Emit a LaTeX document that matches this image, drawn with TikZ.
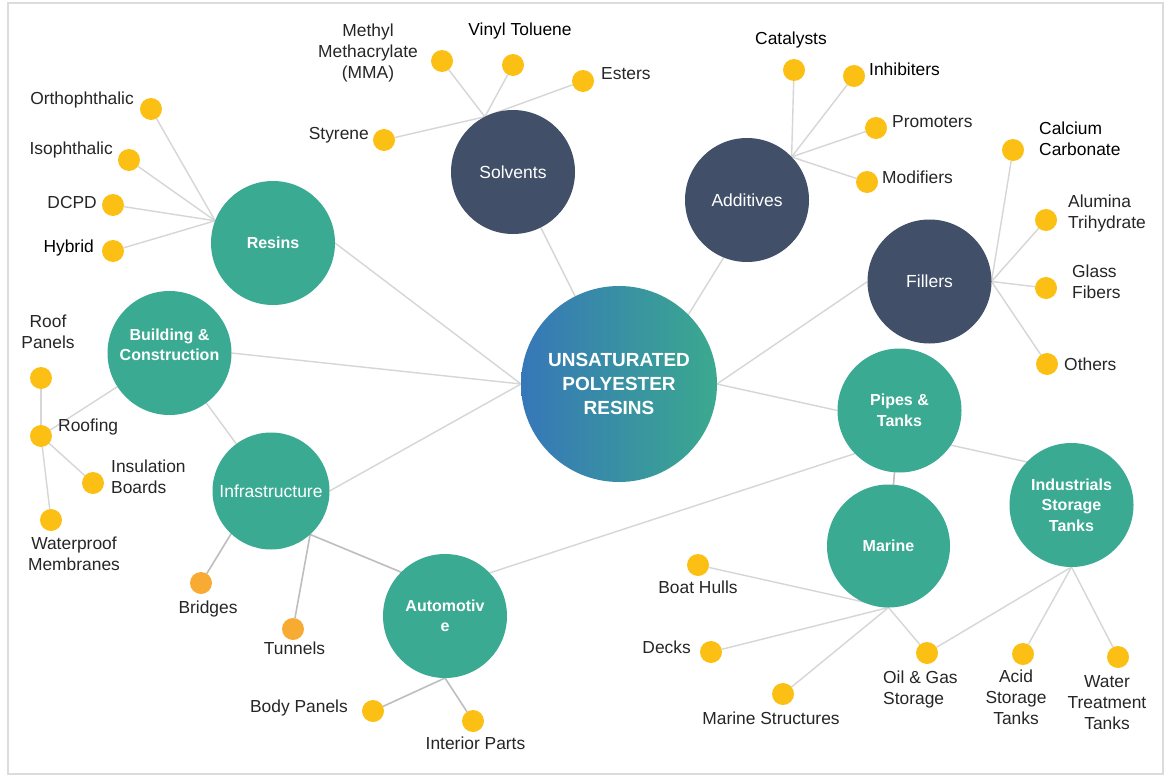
\documentclass[tikz,border=0pt]{standalone}
\usepackage{fontspec}
\setmainfont{Liberation Sans}
\usetikzlibrary{backgrounds}
\definecolor{tealc}{RGB}{58,170,146}
\definecolor{navyc}{RGB}{65,80,104}
\definecolor{yelc}{RGB}{252,191,20}
\definecolor{orac}{RGB}{248,171,51}
\definecolor{blueL}{RGB}{54,119,184}
\definecolor{tealR}{RGB}{59,169,143}
\definecolor{linec}{RGB}{214,214,214}
\definecolor{lined}{RGB}{190,190,190}
\definecolor{framec}{RGB}{220,220,220}
\definecolor{labc}{RGB}{38,38,38}
\begin{document}
\begin{tikzpicture}[x=1pt,y=-1pt,
  gcirc/.style={circle, fill=tealc, inner sep=0pt, outer sep=0pt, minimum size=124pt, text=white, align=center, font=\bfseries\fontsize{16}{20.5}\selectfont},
  ncirc/.style={circle, fill=navyc, inner sep=0pt, outer sep=0pt, minimum size=124pt, text=white, align=center, font=\fontsize{17.5}{21}\selectfont},
  dot/.style={circle, fill=yelc, inner sep=0pt, outer sep=0pt, minimum size=22pt},
  odot/.style={dot, fill=orac},
  lab/.style={inner sep=0pt, text=labc, font=\fontsize{17.4}{21}\selectfont},
  conn/.style={draw=linec, line width=1.4pt},
  connd/.style={draw=lined, line width=1.6pt}
]
\useasboundingbox (0,0) rectangle (1170,776);

% main circles
\node[circle, inner sep=0pt, outer sep=0pt, minimum size=196pt, left color=blueL, right color=tealR, text=white, align=center, font=\bfseries\fontsize{19}{24}\selectfont] (center) at (619,384) {UNSATURATED\\POLYESTER\\RESINS};
\node[ncirc] (solvents) at (513,172) {Solvents};
\node[ncirc] (additives) at (747,200) {Additives};
\node[ncirc] (fillers) at (929.5,281.5) {Fillers};
\node[gcirc] (resins) at (273,243) {Resins};
\node[gcirc] (bc) at (169.5,353) {};
\node[text=white, align=center, inner sep=0pt, font=\bfseries\fontsize{16}{20.5}\selectfont] (bctext) at ([yshift=8pt]bc.center) {Building \&\\Construction};
\node[gcirc, minimum size=117pt, font=\fontsize{17.5}{21}\selectfont] (infra) at (271,491) {Infrastructure};
\node[gcirc] (auto) at (445,616) {Automotiv\\e};
\node[gcirc] (pipes) at (899.5,410.5) {Pipes \&\\Tanks};
\node[gcirc, minimum size=123pt] (marine) at (888.5,546) {Marine};
\node[gcirc] (ind) at (1071.5,505) {Industrials\\Storage\\Tanks};

% dots
\node[dot] (ortho) at (151,109) {};
\node[dot] (iso) at (129,160) {};
\node[dot] (dcpd) at (113,205) {};
\node[dot] (hybrid) at (113,251) {};
\node[dot] (styrene) at (384,140) {};
\node[dot] (mma) at (442,61) {};
\node[dot] (vinyl) at (513,65) {};
\node[dot] (esters) at (583,81) {};
\node[dot] (catalysts) at (794,70) {};
\node[dot] (inhib) at (854,76) {};
\node[dot] (promo) at (876,128) {};
\node[dot] (modif) at (867,182) {};
\node[dot] (calcium) at (1013,150) {};
\node[dot] (alumina) at (1046,220) {};
\node[dot] (glass) at (1046,288) {};
\node[dot] (others) at (1047,364) {};
\node[dot] (roofpanels) at (41,378) {};
\node[dot] (roofing) at (41,436) {};
\node[dot] (insul) at (93,483) {};
\node[dot] (waterproof) at (51,520) {};
\node[odot] (bridges) at (201,583) {};
\node[odot] (tunnels) at (293,629) {};
\node[dot] (body) at (373,711) {};
\node[dot] (interior) at (473,721) {};
\node[dot] (boat) at (698,565) {};
\node[dot] (decks) at (711,652) {};
\node[dot] (mstruct) at (783,694) {};
\node[dot] (oilgas) at (927,653) {};
\node[dot] (acid) at (1023,654) {};
\node[dot] (water) at (1118,657) {};

% labels
\node[lab, anchor=east] (tortho) at (134,100) {Orthophthalic};
\node[lab, anchor=east] (tiso) at (113,150) {Isophthalic};
\node[lab, anchor=east] (tdcpd) at (97,203) {DCPD};
\node[lab, anchor=east, text=black] (thybrid) at (94,248) {Hybrid};
\node[lab, anchor=east] (tstyrene) at (369,135) {Styrene};
\node[lab, align=center] (tmma) at (368,53) {Methyl\\Methacrylate\\(MMA)};
\node[lab, text=black] (tvinyl) at (520,31) {Vinyl Toluene};
\node[lab, anchor=west] (testers) at (601,74) {Esters};
\node[lab, text=black] (tcatalysts) at (791,40) {Catalysts};
\node[lab, anchor=west, text=black] (tinhib) at (869,69) {Inhibiters};
\node[lab, anchor=west] (tpromo) at (892,122) {Promoters};
\node[lab, anchor=west] (tmodif) at (882,177) {Modifiers};
\node[lab, anchor=west, align=left, text=black] (tcalcium) at (1039,138.5) {Calcium\\Carbonate};
\node[lab, anchor=west, align=left] (talumina) at (1068,213.5) {Alumina\\Trihydrate};
\node[lab, anchor=west, align=left] (tglass) at (1072,282) {Glass\\Fibers};
\node[lab, anchor=west] (tothers) at (1064,364) {Others};
\node[lab, align=center] (troofpanels) at (48,331.5) {Roof\\Panels};
\node[lab, anchor=west] (troofing) at (58,427) {Roofing};
\node[lab, anchor=west, align=left] (tinsul) at (111,476.5) {Insulation\\Boards};
\node[lab, align=center] (twaterproof) at (74,553.5) {Waterproof\\Membranes};
\node[lab] (tbridges) at (208,609) {Bridges};
\node[lab] (ttunnels) at (294.5,648) {Tunnels};
\node[lab, anchor=east] (tbody) at (348,708) {Body Panels};
\node[lab] (tinterior) at (475.5,743) {Interior Parts};
\node[lab] (tboat) at (698,587) {Boat Hulls};
\node[lab, anchor=east] (tdecks) at (691,647) {Decks};
\node[lab] (tmstruct) at (771,718) {Marine Structures};
\node[lab, anchor=west, align=left] (toilgas) at (883,689.5) {Oil \& Gas\\Storage};
\node[lab, align=center] (tacid) at (1016,697) {Acid\\Storage\\Tanks};
\node[lab, align=center] (twater) at (1107,702.5) {Water\\Treatment\\Tanks};

% background, frame and connectors
\begin{scope}[on background layer]
\fill[white] (0,0) rectangle (1170,776);
\draw[framec, line width=1.6pt] (8,3) rectangle (1163,774);
\foreach \d in {ortho,iso,dcpd,hybrid} \draw[conn] (resins.159) -- (\d);
\foreach \d in {styrene,mma,vinyl,esters} \draw[conn] (solvents.117) -- (\d);
\foreach \d in {catalysts,inhib,promo,modif} \draw[conn] (additives.44) -- (\d);
\foreach \d in {calcium,alumina,glass,others} \draw[conn] (fillers.east) -- (\d);
\draw[conn] (resins.east) -- (center.west);
\draw[conn] (bc.east) -- (center.west);
\draw[conn] (infra.east) -- (center.west);
\draw[conn] (solvents) -- (center);
\draw[conn] (additives.-112) -- (center.45);
\draw[conn] (fillers.west) -- (center.east);
\draw[conn] (center.east) -- (pipes.west);
\draw[conn] (bc) -- (infra);
\draw[conn] (bc) -- (roofing);
\draw[conn] (roofpanels) -- (roofing);
\draw[conn] (roofing) -- (insul);
\draw[conn] (roofing) -- (waterproof);
\draw[connd] (infra.-48) -- (auto.135);
\draw[connd] (infra.-133) -- (bridges);
\draw[connd] (infra.-48) -- (tunnels);
\draw[conn] (auto.44) -- (pipes.224);
\draw[connd] (auto.south) -- (body);
\draw[connd] (auto.south) -- (interior);
\draw[connd] (pipes) -- (marine);
\draw[conn] (pipes.-34) -- (ind.136);
\foreach \d in {boat,decks,mstruct,oilgas} \draw[conn] (marine.south) -- (\d);
\foreach \d in {oilgas,acid,water} \draw[conn] (ind.south) -- (\d);
\end{scope}
\end{tikzpicture}
\end{document}
